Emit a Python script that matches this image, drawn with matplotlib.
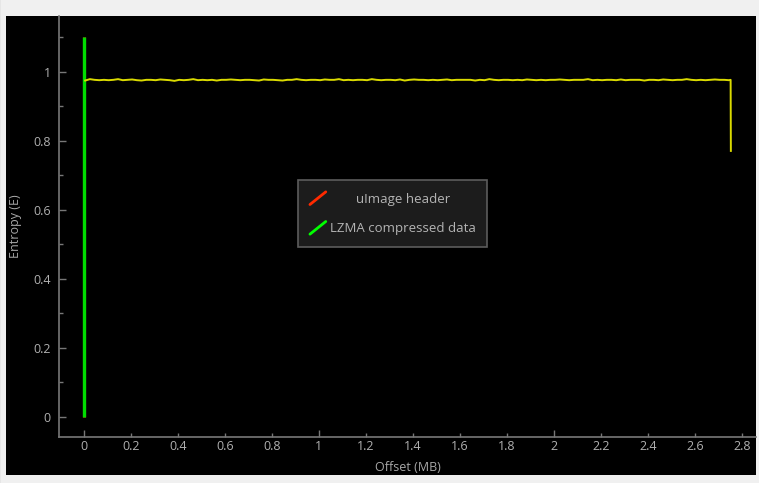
import matplotlib
matplotlib.use("Agg")
import matplotlib.pyplot as plt
from matplotlib.lines import Line2D
from matplotlib.legend_handler import HandlerBase
from matplotlib.patches import Rectangle, FancyBboxPatch
from matplotlib.ticker import FixedLocator, FuncFormatter
from matplotlib.transforms import Affine2D

plt.rcParams['font.family'] = ['Open Sans', 'DejaVu Sans']

# Signature markers (offset in MB, entropy span)
header_offset = [0.0, 0.0]
header_entropy = [0.0, 1.1]
lzma_offset = [0.0, 0.0]
lzma_entropy = [0.0, 1.1]

# Block entropy across the image
block_offset = [
    0.005, 0.025, 0.045, 0.065, 0.085, 0.105, 0.125, 0.145, 0.165, 0.185,
    0.205, 0.225, 0.245, 0.265, 0.285, 0.305, 0.325, 0.345, 0.365, 0.385,
    0.405, 0.425, 0.445, 0.465, 0.485, 0.505, 0.525, 0.545, 0.565, 0.585,
    0.605, 0.625, 0.645, 0.665, 0.685, 0.705, 0.725, 0.745, 0.765, 0.785,
    0.805, 0.825, 0.845, 0.865, 0.885, 0.905, 0.925, 0.945, 0.965, 0.985,
    1.005, 1.025, 1.045, 1.065, 1.085, 1.105, 1.125, 1.145, 1.165, 1.185,
    1.205, 1.225, 1.245, 1.265, 1.285, 1.305, 1.325, 1.345, 1.365, 1.385,
    1.405, 1.425, 1.445, 1.465, 1.485, 1.505, 1.525, 1.545, 1.565, 1.585,
    1.605, 1.625, 1.645, 1.665, 1.685, 1.705, 1.725, 1.745, 1.765, 1.785,
    1.805, 1.825, 1.845, 1.865, 1.885, 1.905, 1.925, 1.945, 1.965, 1.985,
    2.005, 2.025, 2.045, 2.065, 2.085, 2.105, 2.125, 2.145, 2.165, 2.185,
    2.205, 2.225, 2.245, 2.265, 2.285, 2.305, 2.325, 2.345, 2.365, 2.385,
    2.405, 2.425, 2.445, 2.465, 2.485, 2.505, 2.525, 2.545, 2.565, 2.585,
    2.605, 2.625, 2.645, 2.665, 2.685, 2.705, 2.725, 2.745, 2.752, 2.753,
]
block_entropy = [
    0.975, 0.979, 0.977, 0.976, 0.977, 0.976, 0.977, 0.979, 0.976, 0.977,
    0.978, 0.976, 0.975, 0.977, 0.977, 0.976, 0.978, 0.977, 0.976, 0.974,
    0.977, 0.976, 0.977, 0.979, 0.976, 0.977, 0.976, 0.977, 0.975, 0.977,
    0.977, 0.978, 0.977, 0.976, 0.977, 0.977, 0.976, 0.975, 0.978, 0.977,
    0.977, 0.976, 0.975, 0.977, 0.977, 0.979, 0.977, 0.976, 0.977, 0.977,
    0.976, 0.978, 0.977, 0.977, 0.979, 0.976, 0.977, 0.976, 0.977, 0.977,
    0.976, 0.979, 0.977, 0.976, 0.977, 0.977, 0.976, 0.978, 0.975, 0.977,
    0.978, 0.977, 0.977, 0.976, 0.977, 0.976, 0.977, 0.978, 0.976, 0.977,
    0.977, 0.977, 0.977, 0.975, 0.977, 0.976, 0.979, 0.977, 0.976, 0.977,
    0.977, 0.976, 0.977, 0.976, 0.978, 0.977, 0.976, 0.977, 0.976, 0.977,
    0.977, 0.978, 0.977, 0.976, 0.977, 0.977, 0.977, 0.979, 0.976, 0.977,
    0.976, 0.977, 0.977, 0.976, 0.978, 0.976, 0.977, 0.977, 0.977, 0.975,
    0.977, 0.977, 0.976, 0.978, 0.977, 0.976, 0.977, 0.977, 0.979, 0.977,
    0.976, 0.977, 0.976, 0.977, 0.978, 0.977, 0.977, 0.976, 0.977, 0.771,
]

x_major = [0, 1, 2]
x_minor = [0.2, 0.4, 0.6, 0.8, 1.2, 1.4, 1.6, 1.8, 2.2, 2.4, 2.6, 2.8]
y_major = [0, 0.2, 0.4, 0.6, 0.8, 1.0]
y_minor = [0.1, 0.3, 0.5, 0.7, 0.9, 1.1]

W, H = 759, 483
fig = plt.figure(figsize=(W / 100, H / 100), dpi=100, facecolor='#e6e6e6')

# window frame and dark canvas
fig.patches.append(FancyBboxPatch((1 / W, -0.05), 1.2, 1.2,
                                  boxstyle='round,pad=0,rounding_size=0.03',
                                  transform=fig.transFigure, facecolor='#f0f0f0',
                                  edgecolor='none', zorder=-3))
fig.patches.append(Rectangle((6 / W, (H - 475) / H), (756 - 6) / W, (475 - 16) / H,
                             transform=fig.transFigure, facecolor='black',
                             edgecolor='none', zorder=-2))

left, right, top, bottom = 59, 756, 16, 437
ax = fig.add_axes([left / W, (H - bottom) / H, (right - left) / W, (bottom - top) / H])
ax.set_facecolor('black')

ax.plot(header_offset, header_entropy, color='#ff2a00', lw=2.2, solid_capstyle='butt',
        label='uImage header')
ax.plot(lzma_offset, lzma_entropy, color='#00dd00', lw=2.4, solid_capstyle='butt',
        label='LZMA compressed data')
ax.plot(block_offset, block_entropy, color='#dada00', lw=1.4)

ax.set_xlim(-0.1064, 2.86)
ax.set_ylim(-0.058, 1.162)

for side in ('top', 'right'):
    ax.spines[side].set_visible(False)
for side in ('left', 'bottom'):
    ax.spines[side].set_color('#777777')
    ax.spines[side].set_linewidth(1.2)

fmt = FuncFormatter(lambda v, p: f"{v:g}")
ax.xaxis.set_major_locator(FixedLocator(x_major))
ax.xaxis.set_minor_locator(FixedLocator(x_minor))
ax.xaxis.set_major_formatter(fmt)
ax.xaxis.set_minor_formatter(fmt)
ax.yaxis.set_major_locator(FixedLocator(y_major))
ax.yaxis.set_minor_locator(FixedLocator(y_minor))
ax.yaxis.set_major_formatter(fmt)
ax.tick_params(axis='x', which='major', direction='in', length=5, width=1,
               color='#777777', labelcolor='#b0b0b0', labelsize=9, pad=2)
ax.tick_params(axis='x', which='minor', direction='in', length=3, width=1,
               color='#777777', labelcolor='#b0b0b0', labelsize=9, pad=2)
ax.tick_params(axis='y', which='major', direction='in', length=5, width=1,
               color='#777777', labelcolor='#b0b0b0', labelsize=9, pad=6)
ax.tick_params(axis='y', which='minor', direction='in', length=3, width=1,
               color='#777777')

ax.set_xlabel('Offset (MB)', color='#a8a8a8', fontsize=9, labelpad=6)
ax.set_ylabel('Entropy (E)', color='#a8a8a8', fontsize=9, labelpad=8)


class DiagonalHandler(HandlerBase):
    def create_artists(self, legend, orig_handle, xdescent, ydescent, width, height,
                       fontsize, trans):
        x0, y0 = -xdescent, -ydescent
        line = Line2D([x0, x0 + width], [y0, y0 + height],
                      color=orig_handle.get_color(), lw=2, solid_capstyle='round')
        line.set_transform(trans)
        return [line]


handles, labels = ax.get_legend_handles_labels()
handles[1] = Line2D([], [], color='#00ff00')
leg = ax.legend(handles, labels, handler_map={Line2D: DiagonalHandler()},
                loc='upper left', bbox_to_anchor=(0.343, 0.6105), borderaxespad=0,
                fontsize=9.5, labelcolor='#b4b4b4', facecolor='#1c1c1c',
                edgecolor='#5c5c5c', framealpha=1, fancybox=False,
                handlelength=1.2, handleheight=1.1, handletextpad=0.3,
                labelspacing=1.2, borderpad=0.9)
leg.get_frame().set_linewidth(1.2)

# centre the legend labels within their column
fig.canvas.draw()
renderer = fig.canvas.get_renderer()
texts = leg.get_texts()
widths = [t.get_window_extent(renderer).width for t in texts]
wmax = max(widths)
for t, w in zip(texts, widths):
    t.set_transform(t.get_transform() + Affine2D().translate((wmax - w) / 2, 0))

fig.savefig('out.png', dpi=100, facecolor=fig.get_facecolor())
